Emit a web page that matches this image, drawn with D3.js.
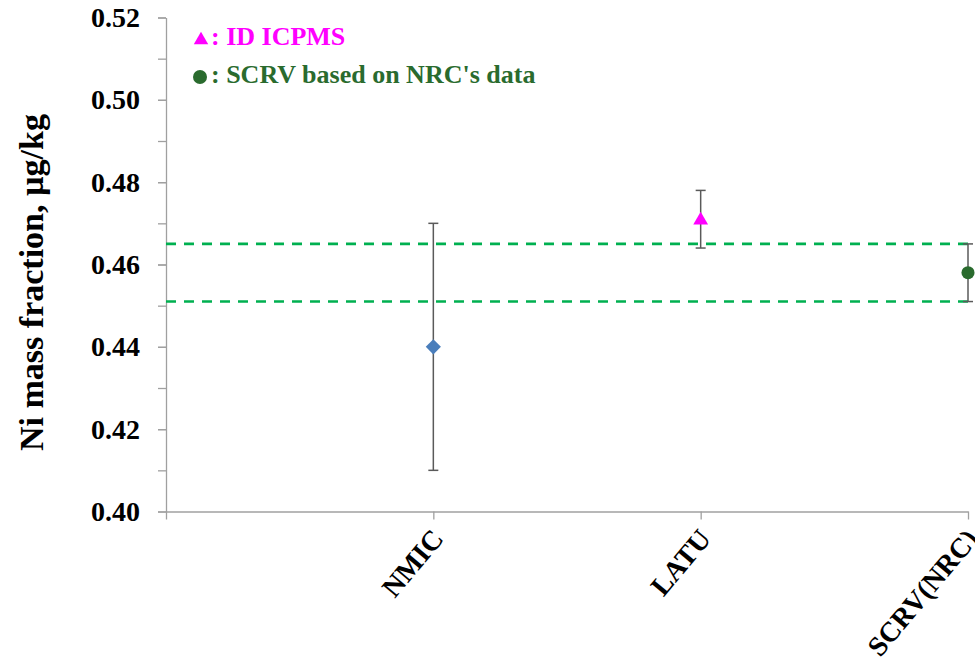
<!DOCTYPE html>
<html>
<head>
<meta charset="utf-8">
<script src="https://cdn.jsdelivr.net/npm/d3@7"></script>
</head>
<body style="margin:0;background:#fff">
<script>
  // chart data
  var categories = ["", "NMIC", "LATU", "SCRV(NRC)"];
  var labs = ["NMIC", "LATU", "SCRV(NRC)"];
  var values = [0.440, 0.471, 0.458];
  var uncert = [0.030, 0.007, 0.007];
  var markers = ["diamond", "triangle", "circle"];
  var refBand = [0.451, 0.465];
  var yTicks = [0.40, 0.42, 0.44, 0.46, 0.48, 0.50, 0.52];
  var legendItems = [": ID ICPMS", ": SCRV based on NRC's data"];

  var width = 975, height = 671;
  var margin = { top: 17.5, left: 166, right: 7, bottom: 159.5 };
  var colors = { diamond: "#4a7ebb", triangle: "#ff00ff", circle: "#2a6b2e" };
  var serif = "Liberation Serif";

  var svg = d3.select("body").append("svg")
    .attr("width", width)
    .attr("height", height);

  var x = d3.scalePoint()
    .domain(categories)
    .range([margin.left, width - margin.right]);

  var y = d3.scaleLinear()
    .domain([0.40, 0.52])
    .range([height - margin.bottom, margin.top]);

  // minor ticks every 0.01
  var minor = d3.range(0, 13).map(function(i) { return 0.40 + i * 0.01; });
  svg.append("g")
    .attr("transform", `translate(${margin.left},0)`)
    .call(d3.axisLeft(y).tickValues(minor).tickSize(8).tickFormat(""))
    .call(function(g) {
      g.select(".domain").remove();
      g.selectAll("line").attr("stroke", "#a0a0a0").attr("stroke-width", 1.3);
    });

  var yAxis = svg.append("g")
    .attr("transform", `translate(${margin.left},0)`)
    .call(d3.axisLeft(y).tickValues(yTicks).tickSize(8).tickSizeOuter(0).tickPadding(18)
      .tickFormat(d3.format(".2f")));
  yAxis.select(".domain").attr("stroke", "#a0a0a0").attr("stroke-width", 1.3);
  yAxis.selectAll("line").attr("stroke", "#a0a0a0").attr("stroke-width", 1.3);
  yAxis.selectAll("text")
    .attr("fill", "#000")
    .style("font-family", serif)
    .style("font-weight", "bold")
    .style("font-size", "28px");

  var xAxis = svg.append("g")
    .attr("transform", `translate(0,${height - margin.bottom})`)
    .call(d3.axisBottom(x).tickSize(8).tickSizeOuter(0));
  xAxis.select(".domain").attr("stroke", "#a0a0a0").attr("stroke-width", 1.3);
  xAxis.selectAll("line").attr("stroke", "#a0a0a0").attr("stroke-width", 1.3);
  xAxis.selectAll("text")
    .attr("fill", "#000")
    .style("font-family", serif)
    .style("font-weight", "bold")
    .style("font-size", "28px")
    .attr("text-anchor", "end")
    .attr("dy", null)
    .attr("y", 0)
    .attr("transform", "translate(11,28) rotate(-50)");

  // axis title
  svg.append("text")
    .attr("transform", `translate(43,${(margin.top + height - margin.bottom) / 2 + 18}) rotate(-90)`)
    .attr("text-anchor", "middle")
    .style("font-family", serif)
    .style("font-weight", "bold")
    .style("font-size", "34px")
    .text("Ni mass fraction, \u00b5g/kg");

  // reference band (dashed)
  svg.selectAll("line.ref")
    .data(refBand)
    .enter()
    .append("line")
    .attr("class", "ref")
    .attr("x1", x.range()[0])
    .attr("x2", x.range()[1])
    .attr("y1", function(d) { return y(d); })
    .attr("y2", function(d) { return y(d); })
    .attr("stroke", "#00b050")
    .attr("stroke-width", 2.6)
    .attr("stroke-dasharray", "10,8");

  // error bars
  var bars = svg.selectAll("g.err")
    .data(labs)
    .enter()
    .append("g")
    .attr("class", "err")
    .attr("stroke", "#5a5a5a")
    .attr("stroke-width", 1.5);
  bars.append("line")
    .attr("x1", function(d) { return x(d); })
    .attr("x2", function(d) { return x(d); })
    .attr("y1", function(d, i) { return y(values[i] + uncert[i]); })
    .attr("y2", function(d, i) { return y(values[i] - uncert[i]); });
  [1, -1].forEach(function(s) {
    bars.append("line")
      .attr("x1", function(d) { return x(d) - 5; })
      .attr("x2", function(d) { return x(d) + 5; })
      .attr("y1", function(d, i) { return y(values[i] + s * uncert[i]); })
      .attr("y2", function(d, i) { return y(values[i] + s * uncert[i]); });
  });

  // markers
  var symType = { diamond: d3.symbolSquare, triangle: d3.symbolTriangle, circle: d3.symbolCircle };
  var symSize = { diamond: 115, triangle: 95, circle: 135 };
  labs.forEach(function(d, i) {
    var m = markers[i];
    var rot = m === "diamond" ? " rotate(45)" : "";
    var dy = m === "triangle" ? 1 : 0;
    svg.append("path")
      .attr("d", d3.symbol().type(symType[m]).size(symSize[m]))
      .attr("transform", `translate(${x(d)},${y(values[i]) + dy})${rot}`)
      .attr("fill", colors[m]);
  });

  // legend
  var legend = svg.append("g");
  legend.append("path")
    .attr("d", d3.symbol().type(d3.symbolTriangle).size(90))
    .attr("transform", "translate(201,40)")
    .attr("fill", colors.triangle);
  legend.append("text")
    .attr("x", 211)
    .attr("y", 45)
    .style("font-family", serif)
    .style("font-weight", "bold")
    .style("font-size", "26px")
    .attr("fill", colors.triangle)
    .text(legendItems[0]);
  legend.append("circle")
    .attr("cx", 200)
    .attr("cy", 77)
    .attr("r", 7)
    .attr("fill", colors.circle);
  legend.append("text")
    .attr("x", 211)
    .attr("y", 83)
    .style("font-family", serif)
    .style("font-weight", "bold")
    .style("font-size", "26px")
    .attr("fill", colors.circle)
    .text(legendItems[1]);
</script>
</body>
</html>
